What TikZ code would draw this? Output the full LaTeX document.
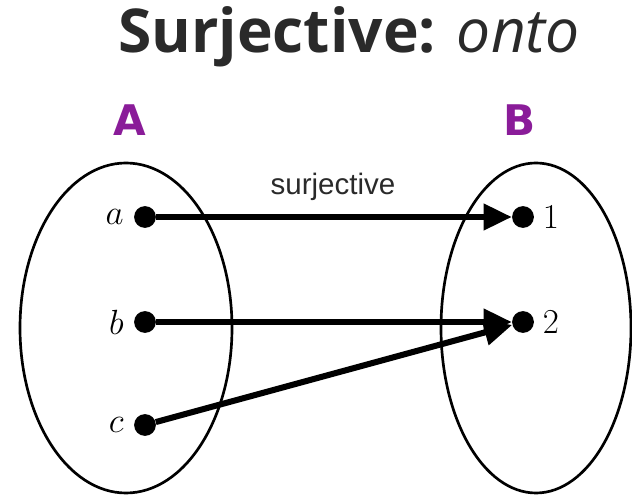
\documentclass[tikz,border=0pt]{standalone}
\usepackage{fontspec}
\usepackage{xcolor}
\usetikzlibrary{arrows.meta}
\setsansfont{Open Sans}
\newfontfamily\labelfont{Liberation Sans}
\newfontfamily\handfont{DejaVu Sans}
\definecolor{set-purple}{HTML}{8A1C99}
\definecolor{title-grey}{HTML}{2A2A2A}

\begin{document}
\begin{tikzpicture}[x=0.025cm, y=-0.025cm,
      every node/.style={inner sep=0pt},
      elem/.style={circle, fill=black, minimum size=15.5pt},
      mapsto/.style={-{Triangle[length=20pt, width=18pt]}, line width=4.3pt}]
    \useasboundingbox (0,0) rectangle (632,498);
    % title
    \node[text=title-grey] (title) at (349,37) {\sffamily\fontsize{43}{50}\selectfont\bfseries Surjective: \mdseries\itshape onto};
    % the two sets
    \node[text=set-purple, font=\handfont\bfseries\fontsize{30}{34}\selectfont] (A) at (130,120) {A};
    \node[text=set-purple, font=\handfont\bfseries\fontsize{30}{34}\selectfont] (B) at (520,120) {B};
    \draw[line width=1.9pt] (126,328) ellipse [x radius=106, y radius=165];
    \draw[line width=1.9pt] (536,328) ellipse [x radius=95, y radius=165];
    % elements
    \node[elem, label={[label distance=7pt, font=\fontsize{26}{28}\selectfont]left:$a$}] (a) at (145,217) {};
    \node[elem, label={[label distance=7pt, font=\fontsize{26}{28}\selectfont]left:$b$}] (b) at (145,322) {};
    \node[elem, label={[label distance=7pt, font=\fontsize{26}{28}\selectfont]left:$c$}] (c) at (145,425) {};
    \node[elem, label={[label distance=6pt, font=\fontsize{26}{28}\selectfont]right:$1$}] (one) at (523,217) {};
    \node[elem, label={[label distance=6pt, font=\fontsize{26}{28}\selectfont]right:$2$}] (two) at (523,322) {};
    % the map
    \draw[mapsto] (a) -- (one);
    \draw[mapsto] (b) -- (two);
    \draw[mapsto] (c) -- (two);
    \node[text=title-grey, font=\labelfont\fontsize{21}{24}\selectfont] (lbl) at (333,187) {surjective};
  \end{tikzpicture}
\end{document}
